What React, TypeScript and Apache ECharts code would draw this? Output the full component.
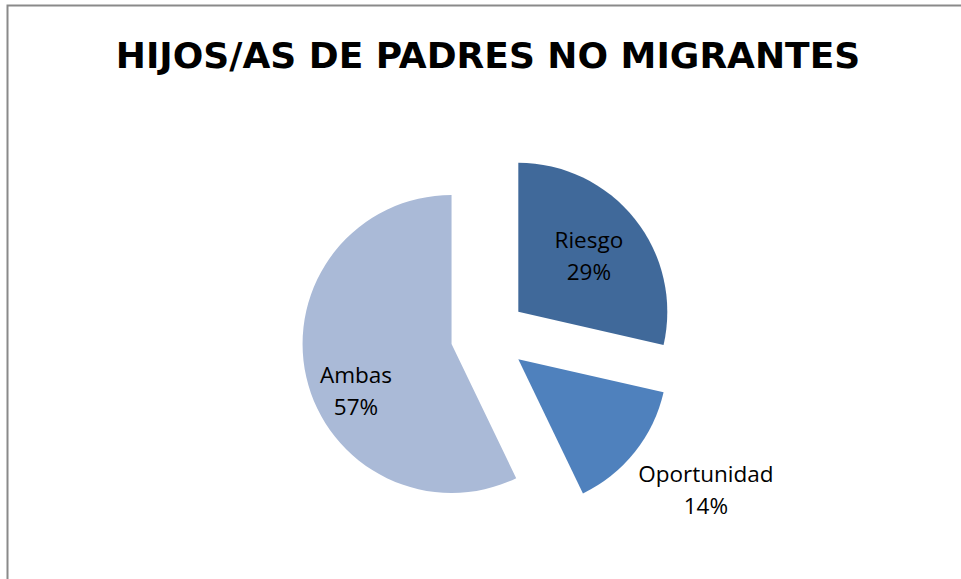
import React, { useEffect, useRef } from "react";
import * as echarts from "echarts";

const categories = ["Riesgo", "Oportunidad", "Ambas"];
const values = [2, 1, 4];
const colors = ["#40699A", "#4F81BD", "#AABAD7"];
const titleText = "HIJOS/AS DE PADRES NO MIGRANTES";
const labelShifts: number[][] = [
  [10, -8],
  [127, 82],
  [-20, 29],
];

export default function App() {
  const ref = useRef<HTMLDivElement>(null);
  useEffect(() => {
    const chart = echarts.init(ref.current!, null, { renderer: "svg" });
    chart.setOption({
      animation: false,
      backgroundColor: "#ffffff",
      graphic: [
        {
          type: "rect",
          silent: true,
          shape: { x: 7.5, y: 5.5, width: 1200, height: 1000 },
          style: { fill: "none", stroke: "#8a8a8a", lineWidth: 2 },
        },
        {
          type: "text",
          x: 488,
          y: 55,
          style: {
            text: titleText,
            fontFamily: "DejaVu Sans",
            fontWeight: "bold",
            fontSize: 36,
            textAlign: "center",
            textVerticalAlign: "middle",
            fill: "#000000",
          },
        },
      ],
      series: [
        {
          type: "pie",
          center: [488.6, 335.5],
          radius: 149,
          startAngle: 90,
          clockwise: true,
          selectedMode: "multiple",
          selectedOffset: 38,
          percentPrecision: 0,
          label: {
            show: true,
            position: "inside",
            formatter: "{b}\n{d}%",
            color: "#000000",
            fontFamily: "Open Sans",
            fontSize: 22.5,
            lineHeight: 32,
          },
          labelLine: { show: false },
          labelLayout: (p: any) => ({
            dx: labelShifts[p.dataIndex][0],
            dy: labelShifts[p.dataIndex][1],
          }),
          emphasis: { disabled: true },
          select: { itemStyle: { borderWidth: 0 } },
          data: categories.map((name, i) => ({
            name,
            value: values[i],
            selected: true,
            itemStyle: { color: colors[i], borderWidth: 0 },
          })),
        },
      ],
    });
    return () => chart.dispose();
  }, []);
  return (
    <div
      ref={ref}
      style={{ position: "fixed", left: 0, top: 0, width: 961, height: 579 }}
    />
  );
}
